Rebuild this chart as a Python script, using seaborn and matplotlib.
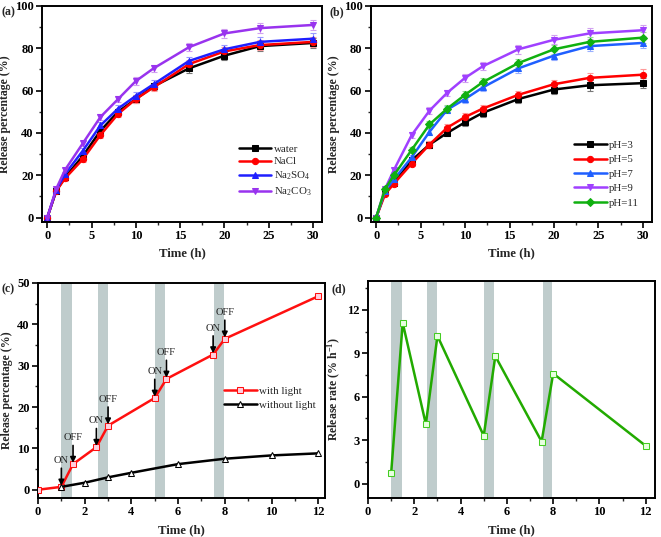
import matplotlib
matplotlib.use("Agg")
import matplotlib.pyplot as plt
import seaborn as sns
import numpy as np
from matplotlib.ticker import MultipleLocator

# ---- data ----
time_ab = [0, 1, 2, 4, 6, 8, 10, 12, 16, 20, 24, 30]

water = [0, 12.5, 19, 29, 41, 50, 56, 62, 70.5, 76.5, 81, 82.5]
nacl = [0, 12.5, 18.5, 27.5, 39, 49, 56, 61.5, 72.5, 78.5, 81.5, 83]
na2so4 = [0, 13, 20.5, 31.5, 43.5, 51.5, 57.5, 63, 74, 79.5, 83, 84.5]
na2co3 = [0, 13.5, 22.5, 35, 47.5, 56, 64.5, 70.5, 80.5, 87, 89.5, 91]
err_a = [0.5, 1, 1, 1.2, 1.5, 1.5, 1.8, 1.8, 2, 2.2, 2.5, 2.5]

ph3 = [0, 12, 16.5, 27, 34.5, 40, 45, 49.5, 56, 60.5, 62.5, 63.5]
ph5 = [0, 11, 16, 25.5, 34.5, 42.5, 47.5, 51.5, 58, 63, 66, 67.5]
ph7 = [0, 12.5, 18, 28.5, 40.5, 51, 56, 61.5, 70.5, 76.5, 81, 82.5]
ph9 = [0, 13.5, 22.5, 39, 50.5, 59, 66, 71.5, 79.5, 84, 87, 88.5]
ph11 = [0, 13.5, 20, 32, 44, 51.5, 58, 64, 73, 79.5, 83, 85]
err_b = [0.5, 1, 1, 1.2, 1.5, 1.5, 1.8, 1.8, 2, 2.2, 2.5, 2.5]

t_light = [0, 1, 1.5, 2.5, 3, 5, 5.5, 7.5, 8, 12]
with_light = [0, 0.7, 6.2, 10.3, 15.5, 22.2, 26.8, 32.7, 36.5, 46.8]
t_dark = [1, 2, 3, 4, 6, 8, 10, 12]
without_light = [0.7, 1.7, 3.0, 4.1, 6.2, 7.5, 8.3, 8.8]

t_rate = [1, 1.5, 2.5, 3, 5, 5.5, 7.5, 8, 12]
rate = [0.7, 11.1, 4.1, 10.2, 3.3, 8.8, 2.9, 7.6, 2.6]

light_on = [1.0, 2.55, 5.0, 7.55]
light_off = [1.45, 2.98, 5.45, 7.95]
arrow_t = [1, 1.5, 2.5, 3, 5, 5.5, 7.5, 8]
arrow_y = [0.7, 6.2, 10.3, 15.5, 22.2, 26.8, 32.7, 36.5]
arrow_txt = ["ON", "OFF", "ON", "OFF", "ON", "OFF", "ON", "OFF"]

# ---- style ----
sns.set_theme(style="ticks")
plt.rcParams["font.family"] = ["Liberation Serif", "DejaVu Serif"]
plt.rcParams["mathtext.fontset"] = "custom"
plt.rcParams["mathtext.rm"] = "Liberation Serif"
plt.rcParams["mathtext.bf"] = "Liberation Serif:bold"
plt.rcParams["mathtext.default"] = "regular"

fig = plt.figure(figsize=(6.61, 5.37), dpi=100)
ax_a = fig.add_axes([0.0635, 0.587, 0.4235, 0.402])
ax_b = fig.add_axes([0.561, 0.587, 0.425, 0.402])
ax_c = fig.add_axes([0.0575, 0.0726, 0.4345, 0.4004])
ax_d = fig.add_axes([0.5567, 0.0726, 0.4343, 0.4044])

YLAB = 8.5
LEG = 7.8


def style_axes(ax, xmaj, xmin, ymaj, ymin):
    for s in ax.spines.values():
        s.set_linewidth(1.4)
        s.set_color("black")
    ax.xaxis.set_major_locator(MultipleLocator(xmaj))
    ax.xaxis.set_minor_locator(MultipleLocator(xmin))
    ax.yaxis.set_major_locator(MultipleLocator(ymaj))
    ax.yaxis.set_minor_locator(MultipleLocator(ymin))
    ax.tick_params(which="major", direction="out", length=4, width=1.2,
                   labelsize=9, pad=2, colors="black")
    ax.tick_params(which="minor", direction="out", length=2.5, width=1.0)
    for lab in ax.get_xticklabels() + ax.get_yticklabels():
        lab.set_fontweight("bold")
    ax.set_xlabel("Time (h)", fontsize=9.2, fontweight="bold", labelpad=4)


def curves(ax, series, labels, colors, ecolors, markers, err):
    for y, lab, c, ec, m in zip(series, labels, colors, ecolors, markers):
        ax.errorbar(time_ab, y, yerr=err, fmt="none", ecolor=ec,
                    elinewidth=0.8, capsize=2.5, capthick=0.8, zorder=1)
        sns.lineplot(x=time_ab, y=y, ax=ax, color=c, marker=m, markersize=4.5,
                     markeredgecolor=c, linewidth=1.8, label=lab, zorder=2)


# (a)
curves(ax_a, [water, nacl, na2so4, na2co3],
       ["water", "NaCl", "Na$_2$SO$_4$", "Na$_2$CO$_3$"],
       ["black", "#ff0000", "#1f1fff", "#9933ee"],
       ["#777777", "#ff9999", "#9999ff", "#d0a0f0"],
       ["s", "o", "^", "v"], err_a)
ax_a.set_xlim(-0.6, 31)
ax_a.set_ylim(-2, 100)
style_axes(ax_a, 5, 2.5, 20, 10)
ax_a.set_ylabel("Release percentage (%)", fontsize=YLAB, fontweight="bold", labelpad=3)
ax_a.legend(loc="lower right", bbox_to_anchor=(1.0, 0.06), frameon=False, fontsize=LEG,
            handlelength=3.0, handletextpad=0.2, labelspacing=0.3, borderaxespad=0.6)

# (b)
curves(ax_b, [ph3, ph5, ph7, ph9, ph11],
       ["pH=3", "pH=5", "pH=7", "pH=9", "pH=11"],
       ["black", "#ff0000", "#1f5fff", "#a040ff", "#10b010"],
       ["#777777", "#ff9999", "#99b0ff", "#d0a0f0", "#99dd99"],
       ["s", "o", "^", "v", "D"], err_b)
ax_b.set_xlim(-0.6, 31)
ax_b.set_ylim(-2, 100)
style_axes(ax_b, 5, 2.5, 20, 10)
ax_b.set_ylabel("Release percentage (%)", fontsize=YLAB, fontweight="bold", labelpad=3)
ax_b.legend(loc="lower right", bbox_to_anchor=(1.0, 0.005), frameon=False, fontsize=LEG,
            handlelength=3.0, handletextpad=0.2, labelspacing=0.45, borderaxespad=0.8)

# (c)
for a, b in zip(light_on, light_off):
    ax_c.axvspan(a, b, color="#bfcccc", lw=0, zorder=0)
    ax_d.axvspan(a, b, color="#bfcccc", lw=0, zorder=0)
sns.lineplot(x=t_light, y=with_light, ax=ax_c, color="#ff1010", marker="s",
             markersize=4.5, markerfacecolor="#ffd0e0", markeredgecolor="#ff1010",
             linewidth=1.8, label="with light", zorder=3)
sns.lineplot(x=t_dark, y=without_light, ax=ax_c, color="black", marker="^",
             markersize=4.5, markerfacecolor="white", markeredgecolor="black",
             linewidth=1.8, label="without light", zorder=3)
for t, y, txt in zip(arrow_t, arrow_y, arrow_txt):
    ax_c.annotate(txt, xy=(t, y + 0.3), xytext=(t, y + 5.3), ha="center", va="bottom",
                  fontsize=7.6, zorder=4,
                  arrowprops=dict(arrowstyle="-|>", color="black", lw=1.2,
                                  mutation_scale=8, shrinkA=0, shrinkB=0))
ax_c.set_xlim(0, 12.3)
ax_c.set_ylim(-2, 50)
style_axes(ax_c, 2, 1, 10, 5)
ax_c.set_ylabel("Release percentage (%)", fontsize=YLAB, fontweight="bold", labelpad=3)
ax_c.legend(loc="center right", bbox_to_anchor=(1.0, 0.465), frameon=False, fontsize=LEG,
            handlelength=3.0, handletextpad=0.2, labelspacing=0.45)

# (d)
sns.lineplot(x=t_rate, y=rate, ax=ax_d, color="#22aa00", marker="s", markersize=4.5,
             markerfacecolor="#e8ffe0", markeredgecolor="#44cc22", linewidth=1.8, zorder=3)
ax_d.set_xlim(0, 12.4)
ax_d.set_ylim(-1, 14)
style_axes(ax_d, 2, 1, 3, 1.5)
ax_d.set_ylabel(r"Release rate (% h$^{\mathbf{-1}}$)", fontsize=YLAB,
                fontweight="bold", labelpad=3)

for lab, x, y in [("(a)", 0.002, 0.972), ("(b)", 0.499, 0.972),
                  ("(c)", 0.002, 0.455), ("(d)", 0.502, 0.455)]:
    fig.text(x, y, lab, fontsize=8.5, fontweight="bold")

fig.savefig("out.png", dpi=100)
